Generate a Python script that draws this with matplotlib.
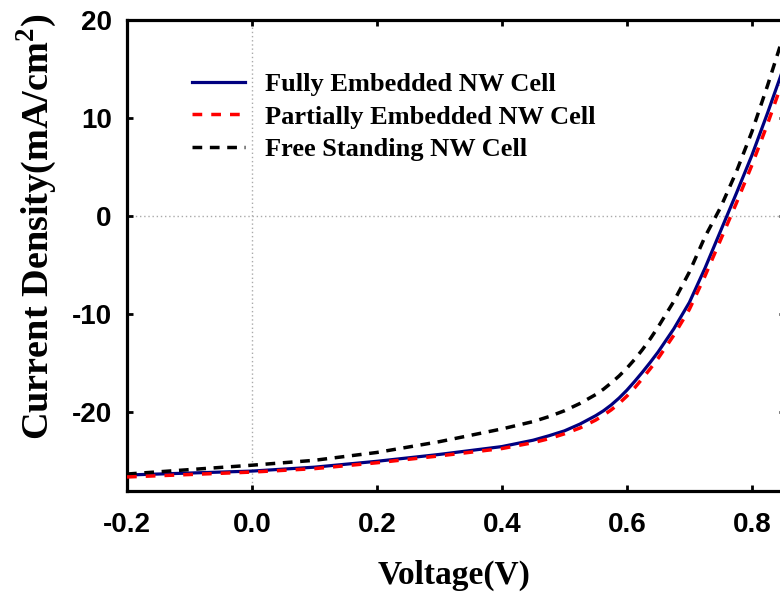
import matplotlib
matplotlib.use("Agg")
import matplotlib.pyplot as plt

plt.rcParams['mathtext.fontset'] = 'custom'
plt.rcParams['mathtext.rm'] = 'Liberation Serif:bold'
plt.rcParams['mathtext.bf'] = 'Liberation Serif:bold'

voltage = [-0.2, -0.1, 0.0, 0.1, 0.2, 0.3, 0.4, 0.45, 0.475, 0.5, 0.525, 0.55, 0.5625, 0.575, 0.5875,
           0.6, 0.6125, 0.625, 0.6375, 0.65, 0.675, 0.7, 0.725, 0.75, 0.775, 0.8, 0.825, 0.85]
fully_embedded = [-26.4, -26.2, -26.0, -25.6, -25.0, -24.3, -23.5, -22.85, -22.4, -21.9, -21.2, -20.35, -19.85,
                  -19.25, -18.55, -17.75, -16.85, -15.9, -14.9, -13.85, -11.5, -8.8, -5.3, -1.5, 2.3, 6.2,
                  10.5, 15.0]
partially_embedded = [-26.6, -26.35, -26.1, -25.75, -25.15, -24.45, -23.7, -23.1, -22.7, -22.2, -21.6, -20.8,
                      -20.3, -19.75, -19.1, -18.35, -17.5, -16.55, -15.55, -14.5, -12.15, -9.5, -6.1, -2.4,
                      1.3, 5.2, 9.4, 13.9]
free_standing = [-26.3, -25.85, -25.4, -24.9, -24.1, -23.0, -21.7, -20.95, -20.45, -19.85, -19.1, -18.2,
                 -17.65, -17.0, -16.3, -15.5, -14.6, -13.6, -12.5, -11.3, -8.7, -5.7, -2.1, 0.9, 4.5, 8.6,
                 13.3, 18.3]
labels = ["Fully Embedded NW Cell", "Partially Embedded NW Cell", "Free Standing NW Cell"]
xticks = [-0.2, 0.0, 0.2, 0.4, 0.6, 0.8]
yticks = [-20, -10, 0, 10, 20]

W, H = 780, 596
fig = plt.figure(figsize=(W / 100, H / 100), dpi=100)
left, right, top, bottom = 127, 785, 20, 490.7
ax = fig.add_axes([left / W, 1 - bottom / H, (right - left) / W, (bottom - top) / H])

ax.axvline(0, color='#aaaaaa', lw=1.0, ls=(0, (1, 2)), zorder=1)
ax.axhline(0, color='#aaaaaa', lw=1.0, ls=(0, (1, 2)), zorder=1)

ax.plot(voltage, fully_embedded, color='#000080', lw=2.3, label=labels[0], zorder=3)
ax.plot(voltage, partially_embedded, color='#ff0000', lw=2.5, dashes=(2.8, 2.6), label=labels[1], zorder=4)
ax.plot(voltage, free_standing, color='#000000', lw=2.5, dashes=(2.8, 2.2), label=labels[2], zorder=3)

ax.set_xlim(-0.2, 0.853)
ax.set_ylim(-28, 20)
ax.set_xticks(xticks)
ax.set_xticklabels([f"{v:.1f}" for v in xticks])
ax.set_yticks(yticks)
ax.set_yticklabels([str(v) for v in yticks])

for s in ax.spines.values():
    s.set_linewidth(2.3)
ax.tick_params(direction='in', length=4, width=2, top=True, right=True,
               labelsize=20)
ax.tick_params(axis='x', pad=15)
ax.tick_params(axis='y', pad=11)
for lab in ax.get_xticklabels() + ax.get_yticklabels():
    lab.set_fontfamily('Liberation Sans')
    lab.set_fontweight('bold')

fig.text(454 / W, 1 - 575 / H, "Voltage(V)", family='Liberation Serif', weight='bold',
         fontsize=24, ha='center', va='center')
fig.text(37 / W, 1 - 227 / H, r"Current Density(mA/cm$^{\mathbf{2}}$)", family='Liberation Serif',
         weight='bold', fontsize=27.5, ha='center', va='center', rotation=90)

leg = ax.legend(loc='upper left', bbox_to_anchor=(192 / W, 1 - 73 / H), bbox_transform=fig.transFigure,
                frameon=False, borderpad=0, borderaxespad=0, handlelength=2.0, handletextpad=0.75,
                labelspacing=0.33, prop={'family': 'Liberation Serif', 'weight': 'bold', 'size': 19})

fig.savefig("out.png", dpi=100)
